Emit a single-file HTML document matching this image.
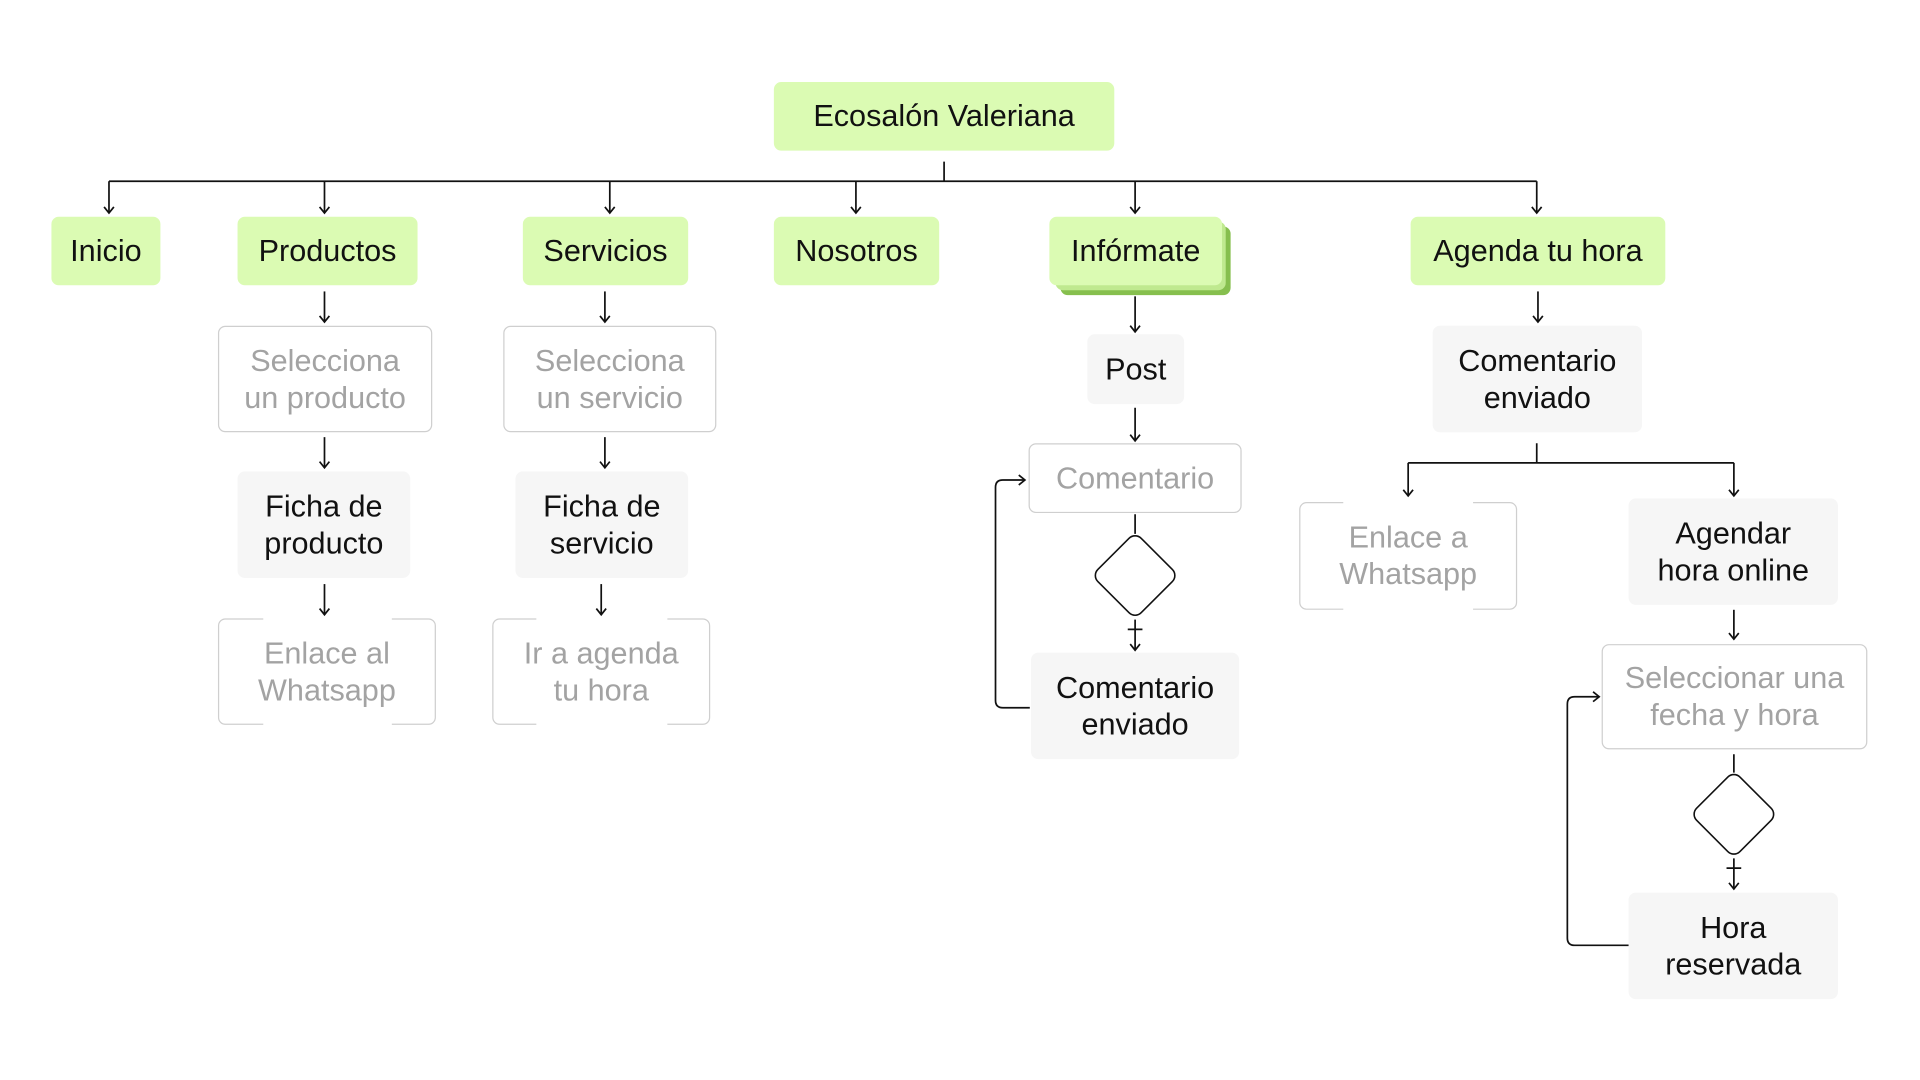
<!DOCTYPE html>
<html><head><meta charset="utf-8"><style>
html,body{margin:0;padding:0;background:#fff;overflow:hidden;width:1920px;height:1080px}
#c{position:absolute;left:0;top:0;width:1568px;height:882px;transform:scale(1.22449);transform-origin:0 0;font-family:"Liberation Sans",sans-serif}
.b{position:absolute;box-sizing:border-box;display:flex;align-items:center;justify-content:center;text-align:center;font-size:25px;line-height:30px;border-radius:6px;color:#111}
.g{background:#dbfbb3}
.f{background:#f6f6f6}
.o{background:#fff;border:1.3px solid #cfcfcf;color:#a3a3a3}
.gap{position:absolute;background:#fff;height:4px}
svg{position:absolute;left:0;top:0;z-index:5}
</style></head><body><div id="c">
<svg width="1568" height="882" fill="none" stroke="#111" stroke-width="1.4">
<defs><marker id="a" markerWidth="12" markerHeight="12" refX="8" refY="5" orient="auto" markerUnits="userSpaceOnUse"><path d="M3,1 L8,5 L3,9" stroke="#111" stroke-width="1.4" fill="none"/></marker></defs>
<path d="M771,132V148M89,148H1255"/>
<g marker-end="url(#a)">
<path d="M89,148V174"/><path d="M265,148V174"/><path d="M498,148V174"/><path d="M699,148V174"/><path d="M927,148V174"/><path d="M1255,148V174"/>
<path d="M265,238V263"/><path d="M265,357V382"/><path d="M265,477V502"/>
<path d="M494,238V263"/><path d="M494,357V382"/><path d="M491,477V502"/>
<path d="M927,242V271"/><path d="M927,333V360"/>
<path d="M1256,238V263"/><path d="M1416,498V522"/>
<path d="M1150,378V405"/><path d="M1416,378V405"/>
<path d="M927,506V531"/><path d="M1416,701V726"/>
<path d="M841,578H819Q813,578 813,572V398Q813,392 819,392H837"/>
<path d="M1330,772H1286Q1280,772 1280,766V575Q1280,569 1286,569H1306"/>
</g>
<path d="M1255,362V378M1150,378H1416"/>
<path d="M927,420V436M921,514H933"/>
<rect x="902" y="445" width="50" height="50" rx="7" transform="rotate(45 927 470)" stroke-width="1.3"/>
<path d="M1416,616V631M1410,709H1422"/>
<rect x="1391" y="640" width="50" height="50" rx="7" transform="rotate(45 1416 665)" stroke-width="1.3"/>
</svg>
<div class="b g" style="left:632px;top:67px;width:278px;height:56px">Ecosalón Valeriana</div>
<div class="b g" style="left:42px;top:177px;width:89px;height:56px">Inicio</div>
<div class="b g" style="left:194px;top:177px;width:147px;height:56px">Productos</div>
<div class="b g" style="left:427px;top:177px;width:135px;height:56px">Servicios</div>
<div class="b g" style="left:632px;top:177px;width:135px;height:56px">Nosotros</div>
<div class="b" style="left:866px;top:185px;width:139px;height:56px;background:#86bf4e"></div>
<div class="b" style="left:862px;top:181px;width:139px;height:56px;background:#bfe98f"></div>
<div class="b g" style="left:857px;top:177px;width:141px;height:56px">Infórmate</div>
<div class="b g" style="left:1152px;top:177px;width:208px;height:56px">Agenda tu hora</div>
<div class="b o" style="left:178px;top:266px;width:175px;height:87px">Selecciona<br>un producto</div>
<div class="b f" style="left:194px;top:385px;width:141px;height:87px">Ficha de<br>producto</div>
<div class="b o" style="left:178px;top:505px;width:178px;height:87px">Enlace al<br>Whatsapp</div>
<div class="gap" style="left:215px;top:503px;width:105px"></div><div class="gap" style="left:215px;top:590px;width:105px"></div>
<div class="b o" style="left:411px;top:266px;width:174px;height:87px">Selecciona<br>un servicio</div>
<div class="b f" style="left:421px;top:385px;width:141px;height:87px">Ficha de<br>servicio</div>
<div class="b o" style="left:402px;top:505px;width:178px;height:87px">Ir a agenda<br>tu hora</div>
<div class="gap" style="left:438px;top:503px;width:107px"></div><div class="gap" style="left:438px;top:590px;width:107px"></div>
<div class="b f" style="left:888px;top:273px;width:79px;height:57px">Post</div>
<div class="b o" style="left:840px;top:362px;width:174px;height:57px">Comentario</div>
<div class="b f" style="left:842px;top:533px;width:170px;height:87px">Comentario<br>enviado</div>
<div class="b f" style="left:1170px;top:266px;width:171px;height:87px">Comentario<br>enviado</div>
<div class="b o" style="left:1061px;top:410px;width:178px;height:88px">Enlace a<br>Whatsapp</div>
<div class="gap" style="left:1097px;top:408px;width:106px"></div><div class="gap" style="left:1097px;top:496px;width:106px"></div>
<div class="b f" style="left:1330px;top:407px;width:171px;height:87px">Agendar<br>hora online</div>
<div class="b o" style="left:1308px;top:526px;width:217px;height:86px">Seleccionar una<br>fecha y hora</div>
<div class="b f" style="left:1330px;top:729px;width:171px;height:87px">Hora<br>reservada</div>
</div></body></html>
